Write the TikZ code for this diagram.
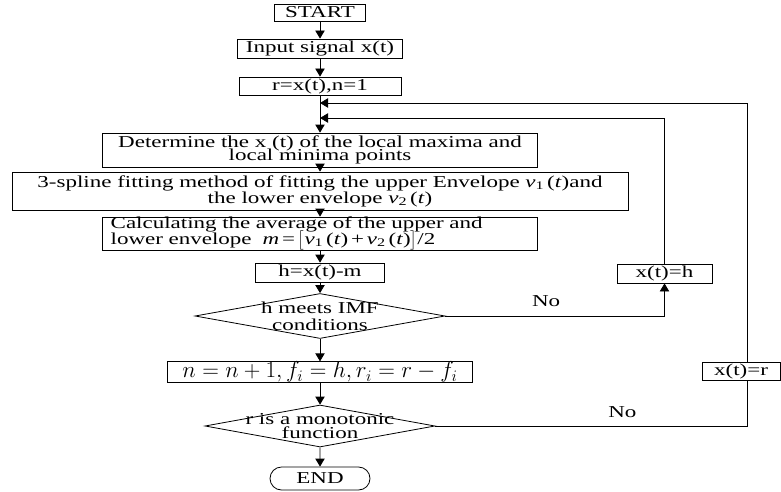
\documentclass[tikz,border=0pt]{standalone}
\usepackage{amsmath}
\usepackage{graphicx}
\usepackage{fontspec}
\setmainfont{Liberation Serif}[FakeStretch=1.38]
\usetikzlibrary{shapes.geometric,shapes.misc,arrows.meta}
\newcommand{\vt}[1]{\textit{v}\textsubscript{#1}\,(\textit{t})}

\begin{document}
\begin{tikzpicture}[x=0.75pt,y=-0.75pt,line width=0.6pt,
  >={Triangle[length=6pt,width=7pt]},
  every node/.style={font=\fontsize{12.5}{13}\selectfont,inner sep=0pt},
  box/.style={draw,rectangle,align=center},
  cond/.style={draw,diamond,aspect=5.5,inner sep=-8pt,align=center},
  term/.style={draw,rounded rectangle}]
\useasboundingbox (0,0) rectangle (781,492);
% main column
\node[box,minimum width=68.25pt,minimum height=12.75pt] (start) at (320,12.5) {START};
\node[box,minimum width=123.75pt,minimum height=14.25pt] (input) at (320,48.5) {Input signal x(t)};
\node[box,minimum width=121.5pt,minimum height=13.5pt] (init) at (320,86) {r=x(t),n=1};
\node[box,minimum width=326.25pt,minimum height=25.5pt,
  font={\fontsize{12.5}{10}\selectfont\lineskiplimit=-20pt}] (det) at (320,150)
  {Determine the x (t) of the local maxima and\\local minima points};
\node[box,minimum width=462pt,minimum height=28.5pt,
  font={\fontsize{12.5}{12}\selectfont\lineskiplimit=-20pt}] (spline) at (320,191)
  {3-spline fitting method of fitting the upper Envelope \vt{1}and\\the lower envelope \vt{2}};
\node[box,align=left,text width=314pt,minimum width=326.25pt,minimum height=24.75pt,
  font={\fontsize{12.5}{11.5}\selectfont\lineskiplimit=-20pt}] (avg) at (320,233.5)
  {Calculating the average of the upper and\\lower envelope \ \textit{m}\,=\,$\bigl[$\vt{1}\,+\,\vt{2}$\bigr]$/2};
\node[box,minimum width=96.75pt,minimum height=14.25pt] (hbox) at (320,272.5) {h=x(t)-m};
\node[cond,minimum width=187.5pt,minimum height=33.75pt,
  font={\fontsize{12.5}{12.75}\selectfont}] (d1) at (320,316) {h meets IMF\\conditions};
\node[box,minimum width=228.75pt,minimum height=13.5pt,font=\fontsize{17}{18}\selectfont] (nbox) at (320,372)
  {$n = n+1, f_i = h, r_i = r - f_i$};
\node[cond,minimum width=172.5pt,minimum height=31.5pt,
  font={\fontsize{12.5}{11}\selectfont\lineskiplimit=-20pt}] (d2) at (320,426) {r is a monotonic\\function};
\node[term,minimum width=75pt,minimum height=17.25pt] (end) at (320,478.5) {END};
% loop boxes
\node[box,minimum width=71.25pt,minimum height=14.25pt] (xh) at (664.5,273.5) {x(t)=h};
\node[box,minimum width=58.5pt,minimum height=13.5pt] (xr) at (741,371) {x(t)=r};
\coordinate (j1) at (320,103);
\coordinate (j2) at (320,118);
% connectors
\draw[->] (start) -- (input);
\draw[->] (input) -- (init);
\draw[->] (init) -- (det);
\draw[->] (det) -- (spline);
\draw[->] (spline) -- (avg);
\draw[->] (avg) -- (hbox);
\draw[->] (hbox) -- (d1);
\draw[->] (d1) -- (nbox);
\draw[->] (nbox) -- (d2);
\draw[->] (d2) -- (end);
\draw[->] (d1.east) -| node (no1) [pos=0.23,yshift=11pt] {No} (xh.south);
\draw[->] (xh) |- (j2);
\draw (d2.east) -| node (no2) [pos=0.3,yshift=10.5pt] {No} ([xshift=4.5pt]xr.south);
\draw[->] ([xshift=4.5pt]xr.north) |- (j1);
\end{tikzpicture}
\end{document}
